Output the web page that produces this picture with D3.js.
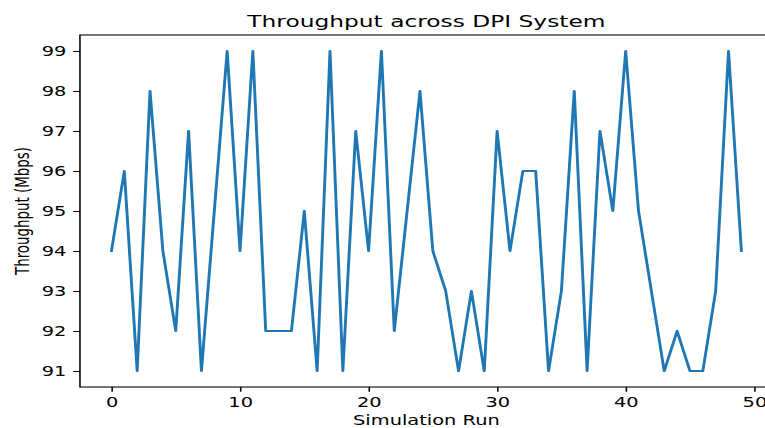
<!DOCTYPE html>
<html>
<head>
<meta charset="utf-8">
<script src="https://cdn.jsdelivr.net/npm/d3@7"></script>
<style>
  html, body { margin: 0; padding: 0; background: #fff; }
  svg { display: block; }
  text { font-family: "DejaVu Sans", sans-serif; fill: #000; }
</style>
</head>
<body>
<div id="chart"></div>
<script>
// ---- Data ----
const runs = d3.range(0, 50);
const throughput = [94, 96, 91, 98, 94, 92, 97, 91, 95, 99,
                    94, 99, 92, 92, 92, 95, 91, 99, 91, 97,
                    94, 99, 92, 95, 98, 94, 93, 91, 93, 91,
                    97, 94, 96, 96, 91, 93, 98, 91, 97, 95,
                    99, 95, 93, 91, 92, 91, 91, 93, 99, 94];
const xTicks = [0, 10, 20, 30, 40, 50];
const yTicks = [91, 92, 93, 94, 95, 96, 97, 98, 99];
const titleText = "Throughput across DPI System";
const xLabelText = "Simulation Run";
const yLabelText = "Throughput (Mbps)";

// ---- Layout: drawn in a 640x480 figure frame, then stretched like the reference ----
const W = 765, H = 428;
const sx = 1.397, sy = 0.965, tx = -31.8, ty = -20.6;
const ax = { left: 80, right: 576, top: 57.6, bottom: 422.4 };
const fs = 13.9;        // tick/label font size
const titleFs = 16.7;
const tickLen = 4.86, tickPad = 4.86;

const svg = d3.select("#chart").append("svg")
  .attr("width", W).attr("height", H);
const g = svg.append("g")
  .attr("transform", `translate(${tx},${ty}) scale(${sx},${sy})`);

const x = d3.scaleLinear().domain([-2.45, 51.45]).range([ax.left, ax.right]);
const y = d3.scaleLinear().domain([90.6, 99.4]).range([ax.bottom, ax.top]);

// line
const line = d3.line().x((d, i) => x(runs[i])).y(d => y(d));
g.append("path")
  .datum(throughput)
  .attr("fill", "none")
  .attr("stroke", "#1f77b4")
  .attr("stroke-width", 2.08)
  .attr("stroke-linejoin", "round")
  .attr("stroke-linecap", "square")
  .attr("d", line);

// axes
const xAxis = d3.axisBottom(x).tickValues(xTicks).tickSize(tickLen).tickPadding(tickPad)
  .tickFormat(d3.format("d"));
const yAxis = d3.axisLeft(y).tickValues(yTicks).tickSize(tickLen).tickPadding(tickPad)
  .tickFormat(d3.format("d"));

const gx = g.append("g").attr("transform", `translate(0,${ax.bottom})`).call(xAxis);
const gy = g.append("g").attr("transform", `translate(${ax.left},0)`).call(yAxis);
[gx, gy].forEach(a => {
  a.select(".domain").remove();
  a.selectAll(".tick line").attr("stroke", "#000").attr("stroke-width", 1.11);
  a.selectAll(".tick text")
    .attr("font-family", "DejaVu Sans")
    .attr("font-size", fs)
    .attr("fill", "#000");
});
gx.selectAll(".tick text").attr("dy", "0.76em");
gy.selectAll(".tick text").attr("dy", "0.36em");

// frame (spines)
g.append("rect")
  .attr("x", ax.left).attr("y", ax.top)
  .attr("width", ax.right - ax.left).attr("height", ax.bottom - ax.top)
  .attr("fill", "none").attr("stroke", "#000").attr("stroke-width", 1.11);

// title
g.append("text")
  .attr("x", (ax.left + ax.right) / 2)
  .attr("y", ax.top - 8.33)
  .attr("text-anchor", "middle")
  .attr("font-size", titleFs)
  .text(titleText);

// x label
g.append("text")
  .attr("x", (ax.left + ax.right) / 2)
  .attr("y", 462.1)
  .attr("text-anchor", "middle")
  .attr("font-size", fs)
  .text(xLabelText);

// y label
g.append("text")
  .attr("transform", `translate(43.7,${(ax.top + ax.bottom) / 2}) rotate(-90)`)
  .attr("text-anchor", "middle")
  .attr("font-size", fs)
  .text(yLabelText);
</script>
</body>
</html>
